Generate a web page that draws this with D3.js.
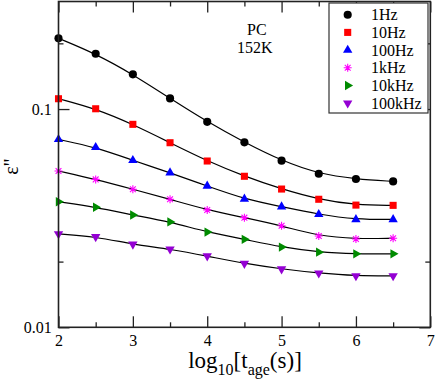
<!DOCTYPE html>
<html>
<head>
<meta charset="utf-8">
<script src="https://cdn.jsdelivr.net/npm/d3@7"></script>
<style>
  body { margin: 0; background: #fff; }
  svg text { font-family: "Liberation Serif", "Times New Roman", serif; }
</style>
</head>
<body>
<div id="plot"></div>
<script>
// data
const logAge = [2, 2.5, 3, 3.5, 4, 4.5, 5, 5.5, 6, 6.5];
const eps1Hz   = [0.2109, 0.1792, 0.1442, 0.1119, 0.0874, 0.0704, 0.0580, 0.0505, 0.0478, 0.0466];
const eps10Hz  = [0.1115, 0.1003, 0.0851, 0.0701, 0.0578, 0.0492, 0.0430, 0.0386, 0.0363, 0.0362];
const eps100Hz = [0.0726, 0.0668, 0.0582, 0.0511, 0.0444, 0.0387, 0.0357, 0.0329, 0.0312, 0.0312];
const eps1kHz  = [0.0520, 0.0476, 0.0429, 0.0386, 0.0345, 0.0318, 0.0292, 0.0262, 0.0254, 0.0256];
const eps10kHz = [0.0376, 0.0355, 0.0327, 0.0304, 0.0273, 0.0253, 0.0233, 0.0221, 0.0217, 0.0217];
const eps100kHz = [0.0268, 0.0260, 0.0240, 0.0228, 0.0212, 0.0196, 0.0185, 0.0177, 0.0172, 0.0172];
const seriesNames = ["1Hz", "10Hz", "100Hz", "1kHz", "10kHz", "100kHz"];
const xTicks = [2, 3, 4, 5, 6, 7];
const xMinorTicks = [2.5, 3.5, 4.5, 5.5, 6.5];
const yTicks = [0.01, 0.1];
const yMinorTicks = [0.02, 0.2];

const allSeries = [eps1Hz, eps10Hz, eps100Hz, eps1kHz, eps10kHz, eps100kHz];
const colors = ["#000000", "#ff0000", "#0000ff", "#ff00ff", "#008b00", "#9400d3"];
const shapes = ["circle", "square", "up", "star", "right", "down"];
const serif = "'Liberation Serif', 'Times New Roman', serif";

const svg = d3.select("div#plot")
              .append("svg")
              .attr("width", 436)
              .attr("height", 383)
              .style("font-family", serif);

const plotLeft = 58.5, plotRight = 430.3, plotTop = 1.5, plotBottom = 327.3;

const x = d3.scaleLinear().domain([2, 7]).range([plotLeft, plotRight]);
const y = d3.scaleLog().domain([0.01, 0.311]).range([plotBottom, plotTop]);

// marker paths
function markerPath(shape) {
  if (shape === "circle") return d3.symbol(d3.symbolCircle, 52)();
  if (shape === "square") return d3.symbol(d3.symbolSquare, 50)();
  if (shape === "star") {
    const r = 4, q = 2.9;
    return `M${-r},0L${r},0M0,${-r}L0,${r}M${-q},${-q}L${q},${q}M${-q},${q}L${q},${-q}`;
  }
  return d3.symbol(d3.symbolTriangle, 38)();
}
function markerRotate(shape) {
  if (shape === "right") return 90;
  if (shape === "down") return 180;
  return 0;
}

// fit lines
const line = d3.line()
               .x((d, i) => x(logAge[i]))
               .y(d => y(d))
               .curve(d3.curveBasis);
svg.selectAll("path.fit")
   .data(allSeries)
   .enter()
   .append("path")
   .attr("class", "fit")
   .attr("d", d => line(d))
   .attr("fill", "none")
   .attr("stroke", "#000")
   .attr("stroke-width", 1.2);

// markers
allSeries.forEach((vals, s) => {
  svg.selectAll("path.m" + s)
     .data(vals)
     .enter()
     .append("path")
     .attr("class", "m" + s)
     .attr("d", markerPath(shapes[s]))
     .attr("transform", (d, i) => `translate(${x(logAge[i])},${y(d)}) rotate(${markerRotate(shapes[s])})`)
     .attr("fill", shapes[s] === "star" ? "none" : colors[s])
     .attr("stroke", shapes[s] === "star" ? colors[s] : "none")
     .attr("stroke-width", 1.1);
});

// axes, all ticks pointing inward
function styleAxis(g) {
  g.attr("font-family", null);
  g.select(".domain").remove();
  g.selectAll("line").attr("stroke", "#222").attr("stroke-width", 1.3);
  g.selectAll("text").attr("fill", "#000")
   .style("font-size", "16px")
   .style("font-family", serif);
}
svg.append("g")
   .attr("transform", `translate(0,${plotBottom})`)
   .call(d3.axisBottom(x).tickValues(xTicks).tickFormat(d3.format("d")).tickSize(-11).tickPadding(7.5))
   .call(styleAxis);
svg.append("g")
   .attr("transform", `translate(0,${plotBottom})`)
   .call(d3.axisBottom(x).tickValues(xMinorTicks).tickFormat("").tickSize(-5))
   .call(styleAxis);
svg.append("g")
   .attr("transform", `translate(0,${plotTop})`)
   .call(d3.axisTop(x).tickValues(xTicks).tickFormat("").tickSize(-11))
   .call(styleAxis);
svg.append("g")
   .attr("transform", `translate(0,${plotTop})`)
   .call(d3.axisTop(x).tickValues(xMinorTicks).tickFormat("").tickSize(-5))
   .call(styleAxis);
svg.append("g")
   .attr("transform", `translate(${plotLeft},0)`)
   .call(d3.axisLeft(y).tickValues(yTicks).tickFormat(d3.format("")).tickSize(-11).tickPadding(6.8))
   .call(styleAxis);
svg.append("g")
   .attr("transform", `translate(${plotLeft},0)`)
   .call(d3.axisLeft(y).tickValues(yMinorTicks).tickFormat("").tickSize(-5))
   .call(styleAxis);
svg.append("g")
   .attr("transform", `translate(${plotRight},0)`)
   .call(d3.axisRight(y).tickValues(yTicks).tickFormat("").tickSize(-11))
   .call(styleAxis);
svg.append("g")
   .attr("transform", `translate(${plotRight},0)`)
   .call(d3.axisRight(y).tickValues(yMinorTicks).tickFormat("").tickSize(-5))
   .call(styleAxis);

// frame
svg.append("rect")
   .attr("x", plotLeft)
   .attr("y", plotTop)
   .attr("width", plotRight - plotLeft)
   .attr("height", plotBottom - plotTop)
   .attr("fill", "none")
   .attr("stroke", "#222")
   .attr("stroke-width", 1.6);

// axis titles
const xt = svg.append("text")
   .attr("x", 245)
   .attr("y", 368)
   .attr("text-anchor", "middle")
   .style("font-size", "23px");
xt.append("tspan").text("log");
xt.append("tspan").style("font-size", "16px").attr("dy", 7).text("10");
xt.append("tspan").attr("dy", -7).text("[t");
xt.append("tspan").style("font-size", "16px").attr("dy", 7).text("age");
xt.append("tspan").attr("dy", -7).text("(s)]");

svg.append("text")
   .attr("transform", "translate(18,166.5) rotate(-90)")
   .attr("text-anchor", "middle")
   .style("font-size", "20px")
   .text("ε\"");

// annotation
svg.append("text").attr("x", 247).attr("y", 35).style("font-size", "16px").text("PC");
svg.append("text").attr("x", 237).attr("y", 52.5).style("font-size", "16px").text("152K");

// legend
svg.append("rect")
   .attr("x", 329)
   .attr("y", 3)
   .attr("width", 99)
   .attr("height", 110)
   .attr("fill", "#fff")
   .attr("stroke", "#333")
   .attr("stroke-width", 1.2);
const legend = svg.selectAll("g.legend")
   .data(seriesNames)
   .enter()
   .append("g")
   .attr("class", "legend")
   .attr("transform", (d, i) => `translate(347.7,${14.7 + i * 17.7})`);
legend.append("path")
   .attr("d", (d, i) => markerPath(shapes[i]))
   .attr("transform", (d, i) => `rotate(${markerRotate(shapes[i])})`)
   .attr("fill", (d, i) => shapes[i] === "star" ? "none" : colors[i])
   .attr("stroke", (d, i) => shapes[i] === "star" ? colors[i] : "none")
   .attr("stroke-width", 1.1);
legend.append("text")
   .attr("x", 23.3)
   .attr("y", 5.5)
   .style("font-size", "16px")
   .text(d => d);
</script>
</body>
</html>
